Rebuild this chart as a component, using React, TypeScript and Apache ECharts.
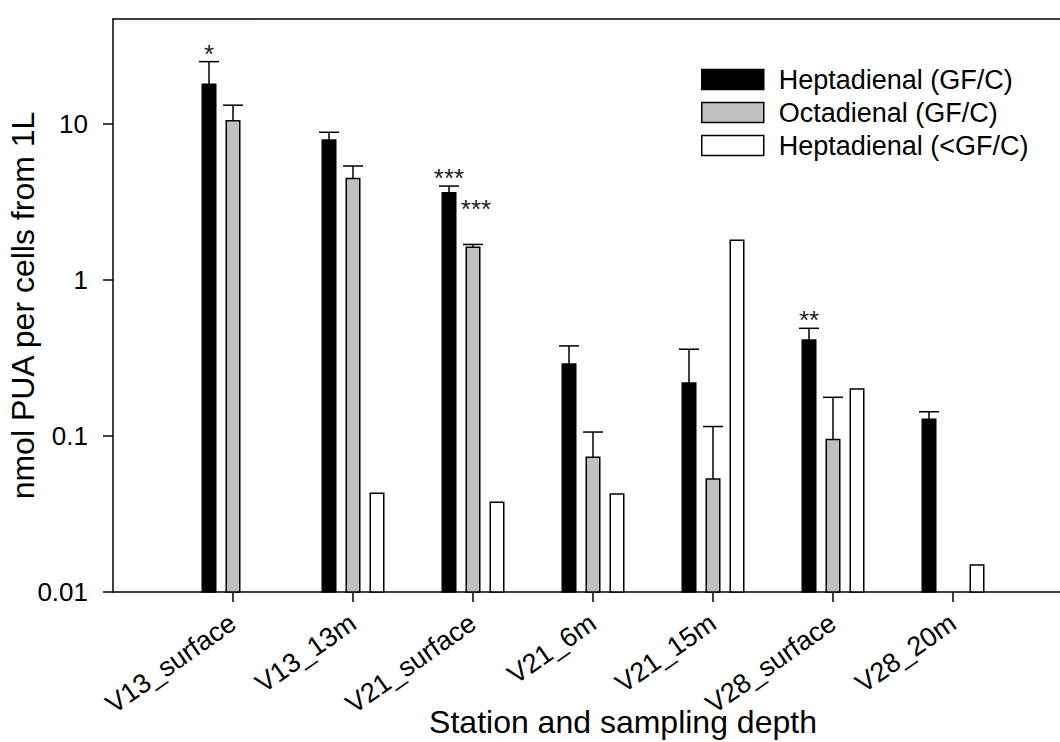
import React, { useEffect, useRef } from "react";
import * as echarts from "echarts";

const categories = ["V13_surface", "V13_13m", "V21_surface", "V21_6m", "V21_15m", "V28_surface", "V28_20m"];
const seriesNames = ["Heptadienal (GF/C)", "Octadienal (GF/C)", "Heptadienal (<GF/C)"];
const heptaGFC = [18.0, 7.9, 3.63, 0.289, 0.219, 0.412, 0.128];
const heptaGFCErrTop = [25.1, 8.85, 4.0, 0.378, 0.36, 0.49, 0.143];
const octaGFC = [10.5, 4.48, 1.62, 0.073, 0.053, 0.095, null];
const octaGFCErrTop = [13.2, 5.38, 1.69, 0.106, 0.115, 0.177, null];
const heptaSmall = [null, 0.043, 0.0376, 0.0425, 1.8, 0.2, 0.0149];
const heptaSig = ["*", "", "***", "", "", "**", ""];
const octaSig = ["", "", "***", "", "", "", ""];
const yTicks = [0.01, 0.1, 1, 10];

const Y_MIN = 0.01;
const Y_MAX = 47.1;
const BAR_W = 13.5;
const FONT = "'Liberation Sans', Arial, Helvetica, sans-serif";

type Spec = {
  name: string;
  values: (number | null)[];
  errs: (number | null)[] | null;
  sigs: string[] | null;
  fill: string;
  offset: number;
  sigGap: number;
};

const specs: Spec[] = [
  { name: seriesNames[0], values: heptaGFC, errs: heptaGFCErrTop, sigs: heptaSig, fill: "#000000", offset: -24, sigGap: 8 },
  { name: seriesNames[1], values: octaGFC, errs: octaGFCErrTop, sigs: octaSig, fill: "#c0c0c0", offset: 0, sigGap: 35 },
  { name: seriesNames[2], values: heptaSmall, errs: null, sigs: null, fill: "#ffffff", offset: 24, sigGap: 8 },
];

const axisCats = ["", ...categories, ""];

export default function App() {
  const ref = useRef<HTMLDivElement>(null);
  useEffect(() => {
    if (!ref.current) return;
    const chart = echarts.init(ref.current, null, { renderer: "svg" });
    const series = specs.map((s) => ({
      type: "custom",
      name: s.name,
      xAxisIndex: 0,
      yAxisIndex: 0,
      itemStyle: { color: s.fill, borderColor: "#000", borderWidth: 1.5 },
      encode: { x: 0, y: 1 },
      data: s.values.map((v, i) => [i + 1, v == null ? "-" : v]),
      renderItem: (params: any, api: any) => {
        const i = params.dataIndex;
        const v = api.value(1);
        if (v == null || isNaN(v)) return null;
        const x = api.value(0);
        const top = api.coord([x, v]);
        const base = api.coord([x, Y_MIN]);
        const cx = top[0] + s.offset;
        const children: any[] = [
          {
            type: "rect",
            shape: { x: cx - BAR_W / 2, y: top[1], width: BAR_W, height: base[1] - top[1] },
            style: { fill: s.fill, stroke: "#000", lineWidth: 1.5 },
          },
        ];
        let capY = top[1];
        const e = s.errs ? s.errs[i] : null;
        if (e != null) {
          const et = api.coord([x, e]);
          capY = et[1];
          children.push({
            type: "line",
            shape: { x1: cx, y1: top[1], x2: cx, y2: et[1] },
            style: { stroke: "#000", lineWidth: 1.5 },
          });
          children.push({
            type: "line",
            shape: { x1: cx - 10, y1: et[1], x2: cx + 10, y2: et[1] },
            style: { stroke: "#000", lineWidth: 1.5 },
          });
        }
        const sig = s.sigs ? s.sigs[i] : "";
        if (sig) {
          children.push({
            type: "text",
            x: cx + (s.offset === 0 ? 3 : 0),
            y: capY - s.sigGap,
            style: {
              text: sig,
              fill: "#222",
              font: `26px ${FONT}`,
              align: "center",
              verticalAlign: "middle",
            },
          });
        }
        return { type: "group", children };
      },
    }));

    chart.setOption({
      animation: false,
      backgroundColor: "#ffffff",
      textStyle: { fontFamily: FONT },
      grid: { left: 113, top: 19, width: 960, height: 573, containLabel: false, outerBoundsMode: "none" },
      legend: {
        left: 701,
        top: 66,
        orient: "vertical",
        padding: 0,
        itemWidth: 62,
        itemHeight: 20,
        itemGap: 6,
        icon: "rect",
        textStyle: { fontSize: 27, color: "#000", fontFamily: FONT, padding: [0, 0, 0, 10] },
        data: specs.map((s) => ({
          name: s.name,
          icon: "rect",
          itemStyle: { color: s.fill, borderColor: "#000", borderWidth: 1.5 },
        })),
      },
      xAxis: [
        {
          type: "category",
          data: axisCats,
          boundaryGap: false,
          position: "bottom",
          axisLine: { lineStyle: { color: "#000", width: 1.5 } },
          axisTick: {
            length: 10,
            lineStyle: { color: "#000", width: 1.5 },
            interval: (index: number) => index >= 1 && index <= categories.length,
          },
          axisLabel: {
            interval: 0,
            rotate: 35,
            fontSize: 27,
            color: "#000",
            margin: 28,
            fontFamily: FONT,
          },
          splitLine: { show: false },
          name: "Station and sampling depth",
          nameLocation: "middle",
          nameMoveOverlap: false,
          nameGap: 114,
          nameTextStyle: { fontSize: 32, color: "#000", fontFamily: FONT, padding: [0, 0, 0, 60] },
        },
        {
          type: "category",
          data: axisCats,
          boundaryGap: false,
          position: "top",
          axisLine: { lineStyle: { color: "#000", width: 1.5 } },
          axisTick: { show: false },
          axisLabel: { show: false },
          splitLine: { show: false },
        },
      ],
      yAxis: {
        type: "log",
        logBase: 10,
        min: Y_MIN,
        max: Y_MAX,
        axisLine: { show: true, lineStyle: { color: "#000", width: 1.5 } },
        axisTick: { show: true, length: 10, lineStyle: { color: "#000", width: 1.5 }, customValues: yTicks },
        axisLabel: {
          customValues: yTicks,
          fontSize: 26,
          color: "#000",
          margin: 25,
          fontFamily: FONT,
          formatter: (v: number) => String(Number(Number(v).toPrecision(3))),
        },
        minorTick: { show: false },
        splitLine: { show: false },
        name: "nmol PUA per cells from 1L",
        nameLocation: "middle",
        nameMoveOverlap: false,
        nameGap: 74,
        nameTextStyle: { fontSize: 32, color: "#000", fontFamily: FONT },
      },
      series,
    });
    return () => chart.dispose();
  }, []);
  return (
    <div
      ref={ref}
      style={{ position: "fixed", left: 0, top: 0, width: 1060, height: 742, background: "#fff" }}
    />
  );
}
